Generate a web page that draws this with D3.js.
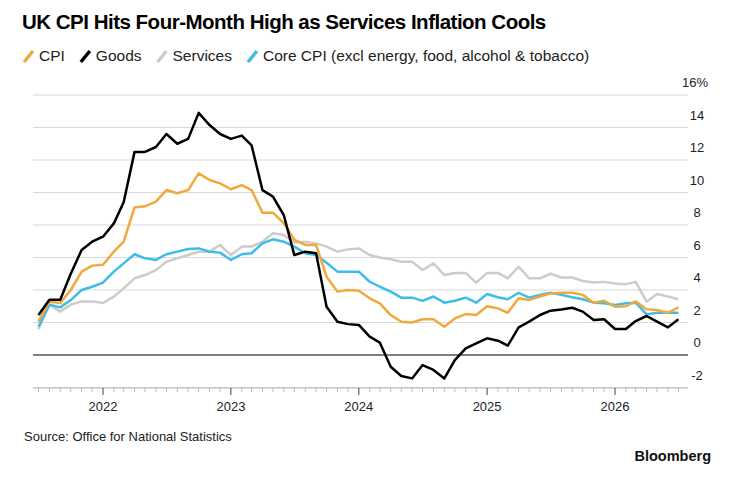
<!DOCTYPE html>
<html><head><meta charset="utf-8">
<script src="https://cdn.jsdelivr.net/npm/d3@7"></script>
<style>body{margin:0;background:#fff;font-family:"Liberation Sans",Arial,sans-serif}</style>
</head><body><svg id="c" width="745" height="481"></svg>
<script>
const startMonth = "2021-07";
const cpi = [2.05,3.28,3.2,4.0,5.13,5.5,5.55,6.36,6.97,9.08,9.15,9.44,10.15,9.95,10.15,11.18,10.77,10.56,10.2,10.45,10.15,8.76,8.76,8.1,7.08,6.77,6.77,4.82,3.9,4.0,3.96,3.49,3.18,2.46,2.05,2.0,2.2,2.2,1.74,2.25,2.52,2.46,3.0,2.87,2.6,3.49,3.39,3.6,3.79,3.83,3.83,3.7,3.22,3.34,2.97,3.0,3.3,2.81,2.77,2.6,2.93];
const goods = [2.46,3.4,3.4,5.0,6.46,6.97,7.28,8.1,9.4,12.5,12.5,12.8,13.6,13.0,13.3,14.9,14.15,13.6,13.3,13.5,12.9,10.15,9.75,8.6,6.15,6.36,6.26,2.97,2.05,1.9,1.85,1.13,0.76,-0.72,-1.29,-1.44,-0.62,-0.92,-1.44,-0.31,0.41,0.72,1.03,0.88,0.57,1.7,2.05,2.46,2.73,2.8,2.91,2.67,2.15,2.2,1.6,1.6,2.09,2.4,2.05,1.7,2.2];
const services = [1.58,3.1,2.67,3.1,3.3,3.3,3.2,3.59,4.1,4.72,4.92,5.23,5.74,5.95,6.15,6.36,6.36,6.77,6.15,6.67,6.67,6.97,7.49,7.38,6.93,6.97,6.87,6.67,6.36,6.5,6.56,6.15,6.0,5.89,5.74,5.74,5.23,5.64,4.92,5.05,5.05,4.45,5.05,5.05,4.72,5.43,4.72,4.72,5.0,4.77,4.77,4.56,4.46,4.5,4.4,4.36,4.5,3.28,3.75,3.6,3.43];
const core = [1.74,3.1,2.93,3.38,4.0,4.2,4.45,5.13,5.64,6.2,5.95,5.85,6.2,6.36,6.52,6.56,6.36,6.3,5.85,6.2,6.26,6.87,7.12,6.97,6.67,6.26,6.15,5.68,5.13,5.13,5.13,4.51,4.2,3.9,3.53,3.53,3.33,3.6,3.22,3.34,3.53,3.22,3.75,3.55,3.43,3.83,3.53,3.7,3.83,3.7,3.55,3.43,3.22,3.18,3.08,3.18,3.22,2.5,2.6,2.6,2.6];
const yTicks = [-2,0,2,4,6,8,10,12,14,16];
const yearLabels = ["2022","2023","2024","2025","2026"];
const seriesNames = ["CPI","Goods","Services","Core CPI (excl energy, food, alcohol & tobacco)"];
const colors = ["#f0a93c","#000000","#cccccc","#3dbde8"];

const svg = d3.select("#c");
const t0 = d3.timeParse("%Y-%m")(startMonth);
const dates = cpi.map((d,i)=>d3.timeMonth.offset(t0,i));
const x = d3.scaleTime().domain([new Date(2022,0,1),new Date(2026,0,1)]).range([103,615]);
const y = d3.scaleLinear().domain([0,16]).range([355,95]);
const L=33, R=688;

svg.append("text").attr("x",22).attr("y",29).attr("font-size",20.5).attr("font-weight","bold").attr("fill","#000").attr("letter-spacing",-0.5).text("UK CPI Hits Four-Month High as Services Inflation Cools");
const leg = svg.append("g").attr("font-size",15.5).attr("fill","#222");
let lx=24;
seriesNames.forEach((n,i)=>{
  leg.append("line").attr("x1",lx).attr("y1",62).attr("x2",lx+9).attr("y2",51).attr("stroke",colors[i]).attr("stroke-width",3.5);
  const t=leg.append("text").attr("x",lx+15).attr("y",61).text(n);
  lx += 15 + t.node().getComputedTextLength() + 16;
});

yTicks.forEach(v=>{
  svg.append("line").attr("x1",L).attr("x2",R).attr("y1",y(v)).attr("y2",y(v)).attr("stroke",v===0?"#000":"#d9d9d9").attr("stroke-width",v===0?1.2:1);
  svg.append("text").attr("x",v===16?695:697).attr("y",y(v)-8).attr("font-size",13).attr("fill","#222").attr("text-anchor","middle").text(v===16?"16%":v);
});
const axY = 388;
svg.append("line").attr("x1",L).attr("x2",R).attr("y1",axY).attr("y2",axY).attr("stroke","#bbb");
const months = d3.timeMonth.range(new Date(2021,6,1),new Date(2026,8,1));
months.forEach(m=>{
  const yr = m.getMonth()===0;
  const xx=x(m); if(xx<L||xx>R) return;
  svg.append("line").attr("x1",xx).attr("x2",xx).attr("y1",axY).attr("y2",axY+(yr?7:4)).attr("stroke",yr?"#444":"#bbb");
});
yearLabels.forEach(l=>{
  svg.append("text").attr("x",x(new Date(+l,0,1))).attr("y",axY+23).attr("font-size",13).attr("text-anchor","middle").attr("fill","#222").text(l);
});

const line = d3.line().x((d,i)=>x(dates[i])).y(d=>y(d));
[services,core,cpi,goods].forEach((s,k)=>{
  const c=[colors[2],colors[3],colors[0],colors[1]][k];
  svg.append("path").attr("d",line(s)).attr("fill","none").attr("stroke",c).attr("stroke-width",2.5).attr("stroke-linejoin","round");
});

svg.append("text").attr("x",24).attr("y",441).attr("font-size",13).attr("fill","#222").text("Source: Office for National Statistics");
svg.append("text").attr("x",711).attr("y",461).attr("font-size",14.5).attr("font-weight","bold").attr("text-anchor","end").attr("fill","#111").text("Bloomberg");
</script></body></html>
